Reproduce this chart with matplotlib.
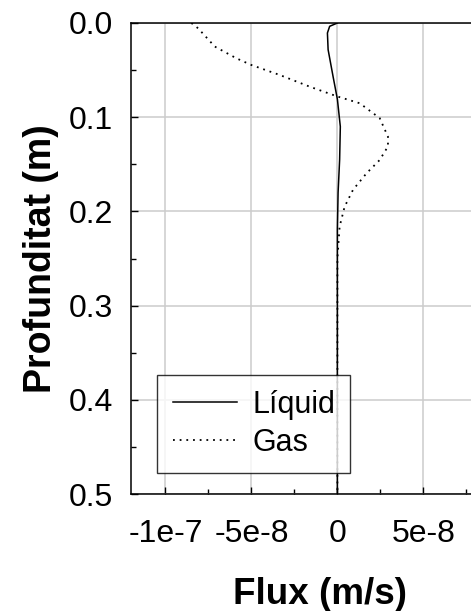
import matplotlib
matplotlib.use("Agg")
import matplotlib.pyplot as plt
from matplotlib.ticker import MultipleLocator, FixedLocator

plt.rcParams['font.family'] = ['Liberation Sans', 'DejaVu Sans']

# Depth profiles (m) and fluxes (m/s)
liquid_depth = [0.0, 0.0035, 0.0106, 0.0283, 0.057, 0.081, 0.11, 0.145, 0.18, 0.22, 0.5]
liquid_flux = [0.0, -4.5e-9, -5.8e-9, -5.4e-9, -2.5e-9, 0.0, 1.7e-9, 1.3e-9, 0.4e-9, 0.0, 0.0]

gas_depth = [0.0, 0.0056, 0.025, 0.0375, 0.0446, 0.0552, 0.0676, 0.078, 0.0852, 0.101,
             0.1207, 0.131, 0.1454, 0.1596, 0.177, 0.195, 0.216, 0.25, 0.5]
gas_flux = [-8.49e-8, -8.1e-8, -7.13e-8, -5.87e-8, -5.0e-8, -3.35e-8, -1.61e-8, 0.0, 1.3e-8, 2.46e-8,
            2.94e-8, 2.94e-8, 2.46e-8, 1.69e-8, 9.1e-9, 4.2e-9, 1.3e-9, 0.0, 0.0]

x_ticks = [-1e-7, -5e-8, 0, 5e-8]
x_tick_labels = ['-1e-7', '-5e-8', '0', '5e-8']
y_ticks = [0.0, 0.1, 0.2, 0.3, 0.4, 0.5]
y_tick_labels = ['0.0', '0.1', '0.2', '0.3', '0.4', '0.5']

W, H = 471, 611
fig = plt.figure(figsize=(W / 100, H / 100), dpi=100)
left, right, top, bottom = 131, 509.4, 23, 494
ax = fig.add_axes([left / W, 1 - bottom / H, (right - left) / W, (bottom - top) / H])

ax.plot(liquid_flux, liquid_depth, color='black', lw=1.1, label='Líquid')
ax.plot(gas_flux, gas_depth, color='black', lw=1.3, linestyle=(0, (1, 2.7)), label='Gas')

ax.set_xlim(-1.2e-7, 1.0e-7)
ax.set_ylim(0.5, 0.0)
ax.set_xticks(x_ticks)
ax.set_xticklabels(x_tick_labels)
ax.set_yticks(y_ticks)
ax.set_yticklabels(y_tick_labels)
ax.xaxis.set_minor_locator(FixedLocator([-7.5e-8, -2.5e-8, 2.5e-8, 7.5e-8]))
ax.yaxis.set_minor_locator(MultipleLocator(0.05))

ax.grid(True, which='major', color='#cccccc', lw=1.1)
ax.set_axisbelow(True)
ax.tick_params(which='both', direction='in', labelsize=23, width=1)
ax.tick_params(which='major', length=5)
ax.tick_params(which='minor', length=3.4)
ax.tick_params(axis='y', which='major', pad=13)
ax.tick_params(axis='x', which='major', pad=18)
ax.tick_params(top=False, right=False, which='both')
for s in ['top', 'bottom', 'left']:
    ax.spines[s].set_linewidth(1.1)
ax.spines['right'].set_visible(False)

ax.set_xlabel('Flux (m/s)', fontsize=26.5, fontweight='bold', labelpad=20)
ax.set_ylabel('Profunditat (m)', fontsize=27, fontweight='bold', labelpad=7)

leg = ax.legend(loc='upper left', bbox_to_anchor=((157.3 - left) / (right - left), (bottom - 374.7) / (bottom - top)),
                fontsize=22, frameon=True, fancybox=False, edgecolor='black',
                borderpad=0.5, handlelength=2.1, handletextpad=0.5, labelspacing=0.25,
                borderaxespad=0)
leg.get_frame().set_linewidth(1.0)

fig.savefig('out.png', dpi=100)
